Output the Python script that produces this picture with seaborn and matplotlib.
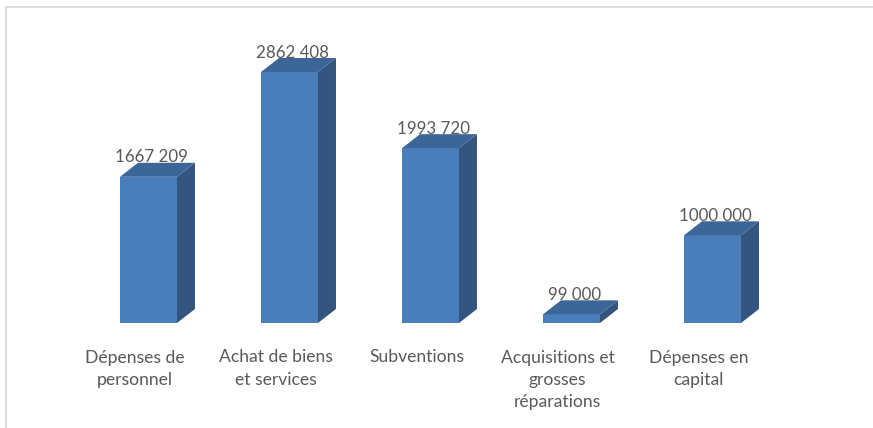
import matplotlib
matplotlib.use("Agg")
import matplotlib.pyplot as plt
from matplotlib.lines import Line2D
from matplotlib.patches import Polygon
import seaborn as sns
import pandas as pd

# Budget items and amounts
categories = ["Dépenses de\npersonnel", "Achat de biens\net services", "Subventions",
              "Acquisitions et\ngrosses\nréparations", "Dépenses en\ncapital"]
values = [1667209, 2862408, 1993720, 99000, 1000000]
value_labels = ["1667 209", "2862 408", "1993 720", "99 000", "1000 000"]

FRONT = "#4A7EBB"
SIDE = "#33557F"
TOP = "#3C6598"
TEXT = "#595959"

sns.set_theme(style="white")
plt.rcParams["font.family"] = ["Lato", "DejaVu Sans"]

W, H = 873, 428
fig = plt.figure(figsize=(W / 100, H / 100), dpi=100)
ax = fig.add_axes([0, 0, 1, 1])

df = pd.DataFrame({"cat": categories, "val": values})
sns.barplot(data=df, x="cat", y="val", color=FRONT, saturation=1, width=0.404,
            edgecolor="none", linewidth=0, ax=ax)

# Pixel layout of the plotting area
x_first, x_step = 148.5, 141.0           # centre of first bar and category spacing (px)
base_px = 105.0                          # baseline height from bottom (px)
units_per_px = 2862408 / 251.0
ax.set_xlim(-x_first / x_step, (W - x_first) / x_step)
ax.set_ylim(-base_px * units_per_px, (H - base_px) * units_per_px)
ax.set_axis_off()

# Extrusion depth of the 3D boxes
ddx = 18.0 / x_step
ddy = 14.0 * units_per_px

for i, p in enumerate(ax.patches):
    x0, w, h = p.get_x(), p.get_width(), p.get_height()
    side = Polygon([(x0 + w, 0), (x0 + w + ddx, ddy), (x0 + w + ddx, h + ddy), (x0 + w, h)],
                   closed=True, facecolor=SIDE, edgecolor="none")
    top = Polygon([(x0, h), (x0 + ddx, h + ddy), (x0 + w + ddx, h + ddy), (x0 + w, h)],
                  closed=True, facecolor=TOP, edgecolor="none")
    ax.add_patch(side)
    ax.add_patch(top)
    ax.text(x0 + w / 2 + 3.0 / x_step, h + ddy + 0.5 * units_per_px, value_labels[i],
            ha="center", va="baseline", fontsize=12.2, color=TEXT)

# Category labels under the boxes
label_top = (H - 349.5 - base_px) * units_per_px
for i, cat in enumerate(categories):
    ax.text(i - 14.0 / x_step, label_top, cat, ha="center", va="top",
            fontsize=12.6, color=TEXT, linespacing=1.47, multialignment="center")

# Chart area frame
fig.add_artist(Line2D([5.5 / W, 1.0], [1 - 6.5 / H, 1 - 6.5 / H], color="#D9D9D9", lw=1.2))
fig.add_artist(Line2D([5.5 / W, 5.5 / W], [0.0, 1 - 6.5 / H], color="#D9D9D9", lw=1.2))

fig.savefig("out.png", dpi=100, facecolor="white")
